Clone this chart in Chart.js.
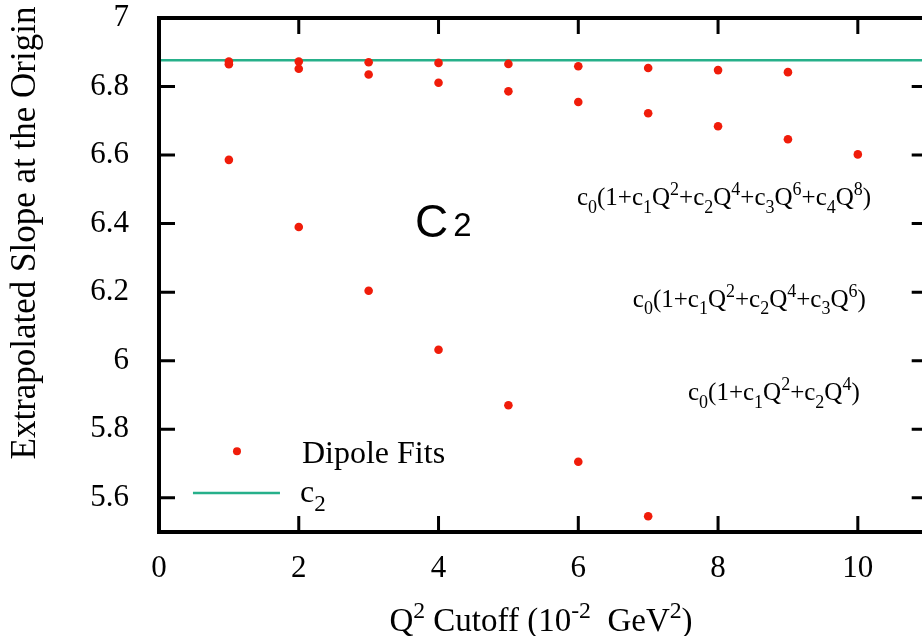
<!DOCTYPE html>
<html>
<head>
<meta charset="utf-8">
<script src="https://cdn.jsdelivr.net/npm/chart.js@4.4.1/dist/chart.umd.min.js"></script>
<style>
  html,body{margin:0;padding:0;background:#fff;overflow:hidden;}
  #wrap{width:932px;height:636px;}
</style>
</head>
<body>
<div id="wrap"><canvas id="c" width="932" height="636"></canvas></div>
<script>
// Q^2 cutoff in units of 10^-2 GeV^2
const cutoffs = [1,2,3,4,5,6,7,8,9,10];
// slope at origin from the three dipole-fit polynomial orders
const fitQ8 = [6.873,6.873,6.871,6.869,6.866,6.859,6.854,6.848,6.842];
const fitQ6 = [6.865,6.852,6.835,6.811,6.786,6.755,6.722,6.684,6.646,6.602];
const fitQ4 = [6.586,6.390,6.204,6.032,5.870,5.705,5.546];
const c2Value = 6.877;

const xTicks = [0,2,4,6,8,10];
const yTicks = [5.6,5.8,6,6.2,6.4,6.6,6.8,7];

const RED = "rgb(240,28,10)";
const GREEN = "rgb(38,176,138)";
const SERIF = "'Liberation Serif', 'Times New Roman', serif";
const SANS = "'Liberation Sans', Arial, sans-serif";

Chart.defaults.font.family = SERIF;
Chart.defaults.color = "#000";

const pts = ys => ys.map((y,i)=>({x:cutoffs[i], y}));

// rich text: [text, kind] where kind is "n", "sub" or "sup"
function richWidth(ctx, segs, size, fam){
  let w=0;
  for(const [t,k] of segs){
    const s = k==="n"?size:size*0.72;
    ctx.font = `${s}px ${fam}`;
    w += ctx.measureText(t).width;
  }
  return w;
}
function drawRich(ctx, x, y, segs, size, fam){
  ctx.textAlign="left"; ctx.textBaseline="alphabetic"; ctx.fillStyle="#000";
  for(const [t,k] of segs){
    const s = k==="n"?size:size*0.72;
    const dy = k==="sub"?size*0.3:(k==="sup"?-size*0.4:0);
    ctx.font = `${s}px ${fam}`;
    ctx.fillText(t, x, y+dy);
    x += ctx.measureText(t).width;
  }
}

const f8 = [["c","n"],["0","sub"],["(1+c","n"],["1","sub"],["Q","n"],["2","sup"],["+c","n"],["2","sub"],["Q","n"],["4","sup"],["+c","n"],["3","sub"],["Q","n"],["6","sup"],["+c","n"],["4","sub"],["Q","n"],["8","sup"],[")","n"]];
const f6 = [["c","n"],["0","sub"],["(1+c","n"],["1","sub"],["Q","n"],["2","sup"],["+c","n"],["2","sub"],["Q","n"],["4","sup"],["+c","n"],["3","sub"],["Q","n"],["6","sup"],[")","n"]];
const f4 = [["c","n"],["0","sub"],["(1+c","n"],["1","sub"],["Q","n"],["2","sup"],["+c","n"],["2","sub"],["Q","n"],["4","sup"],[")","n"]];

const labels = [
  {x:5.98, y:6.454, segs:f8},
  {x:6.78, y:6.157, segs:f6},
  {x:7.57, y:5.885, segs:f4}
];

const decor = {
  id:"decor",
  afterDraw(chart){
    const {ctx, chartArea:a, scales:{x,y}} = chart;
    ctx.save();
    // frame
    ctx.strokeStyle="#000"; ctx.lineWidth=4;
    ctx.strokeRect(a.left, a.top, a.right-a.left, a.bottom-a.top);
    // inward ticks on all sides
    ctx.lineWidth=3;
    const L=16;
    ctx.beginPath();
    xTicks.forEach(v=>{
      const px=x.getPixelForValue(v);
      if(v===0) return;
      ctx.moveTo(px,a.bottom); ctx.lineTo(px,a.bottom-L);
      ctx.moveTo(px,a.top); ctx.lineTo(px,a.top+L);
    });
    yTicks.forEach(v=>{
      const py=y.getPixelForValue(v);
      if(v===7) return;
      ctx.moveTo(a.left,py); ctx.lineTo(a.left+L,py);
      ctx.moveTo(a.right,py); ctx.lineTo(a.right-L,py);
    });
    ctx.stroke();

    // fit annotations
    labels.forEach(l=>drawRich(ctx, x.getPixelForValue(l.x), y.getPixelForValue(l.y), l.segs, 25, SERIF));

    // big C2 label
    ctx.fillStyle="#000"; ctx.textAlign="left"; ctx.textBaseline="alphabetic";
    ctx.font=`46px ${SANS}`;
    const cx=x.getPixelForValue(3.662), cy=y.getPixelForValue(6.361);
    ctx.fillText("C", cx, cy);
    const cw=ctx.measureText("C").width;
    ctx.font=`33px ${SANS}`;
    ctx.fillText("2", cx+cw+5, cy-1);

    // legend
    ctx.fillStyle=RED;
    ctx.beginPath();
    ctx.arc(x.getPixelForValue(1.116), y.getPixelForValue(5.736), 4, 0, Math.PI*2);
    ctx.fill();
    drawRich(ctx, x.getPixelForValue(2.046), y.getPixelForValue(5.701), [["Dipole Fits","n"]], 32, SERIF);
    ctx.strokeStyle=GREEN; ctx.lineWidth=2.5;
    ctx.beginPath();
    ctx.moveTo(x.getPixelForValue(0.486), y.getPixelForValue(5.614));
    ctx.lineTo(x.getPixelForValue(1.731), y.getPixelForValue(5.614));
    ctx.stroke();
    drawRich(ctx, x.getPixelForValue(2.017), y.getPixelForValue(5.588), [["c","n"],["2","sub"]], 32, SERIF);

    // axis titles
    const xt=[["Q","n"],["2","sup"],[" Cutoff (10","n"],["-2","sup"],["  GeV","n"],["2","sup"],[")","n"]];
    const w=richWidth(ctx, xt, 33, SERIF);
    drawRich(ctx, 541-w/2, 631, xt, 33, SERIF);

    ctx.translate(35, 233);
    ctx.rotate(-Math.PI/2);
    ctx.fillStyle="#000"; ctx.textAlign="center"; ctx.textBaseline="alphabetic";
    ctx.font=`35px ${SERIF}`;
    ctx.fillText("Extrapolated Slope at the Origin", 0, 0);
    ctx.restore();
  }
};

const dot = {type:"scatter", pointRadius:4.3, pointHoverRadius:4.3, pointBackgroundColor:RED, pointBorderWidth:0, showLine:false};

new Chart(document.getElementById("c"), {
  type:"scatter",
  data:{datasets:[
    {...dot, label:"Dipole Fits", data:pts(fitQ8)},
    {...dot, label:"Dipole Fits Q6", data:pts(fitQ6)},
    {...dot, label:"Dipole Fits Q4", data:pts(fitQ4)},
    {type:"line", label:"c2", data:[{x:0,y:c2Value},{x:11,y:c2Value}], borderColor:GREEN, borderWidth:2.5, pointRadius:0}
  ]},
  options:{
    responsive:false, animation:false,
    layout:{padding:{top:18,right:4,left:0,bottom:0}},
    plugins:{legend:{display:false}, tooltip:{enabled:false}},
    scales:{
      x:{type:"linear", min:0, max:11,
        grid:{display:false}, border:{display:false},
        ticks:{stepSize:2, includeBounds:false, padding:10, color:"#000", font:{family:SERIF, size:31}},
        afterFit(s){ s.height=104; s.paddingLeft=0; s.paddingRight=0; }
      },
      y:{type:"linear", min:5.5, max:7,
        grid:{display:false}, border:{display:false},
        ticks:{stepSize:0.2, includeBounds:false, padding:22, color:"#000", font:{family:SERIF, size:31},
          callback:v=>String(+v.toFixed(1))},
        afterFit(s){ s.width=159; s.paddingTop=0; s.paddingBottom=0; }
      }
    }
  },
  plugins:[decor]
});
</script>
</body>
</html>
